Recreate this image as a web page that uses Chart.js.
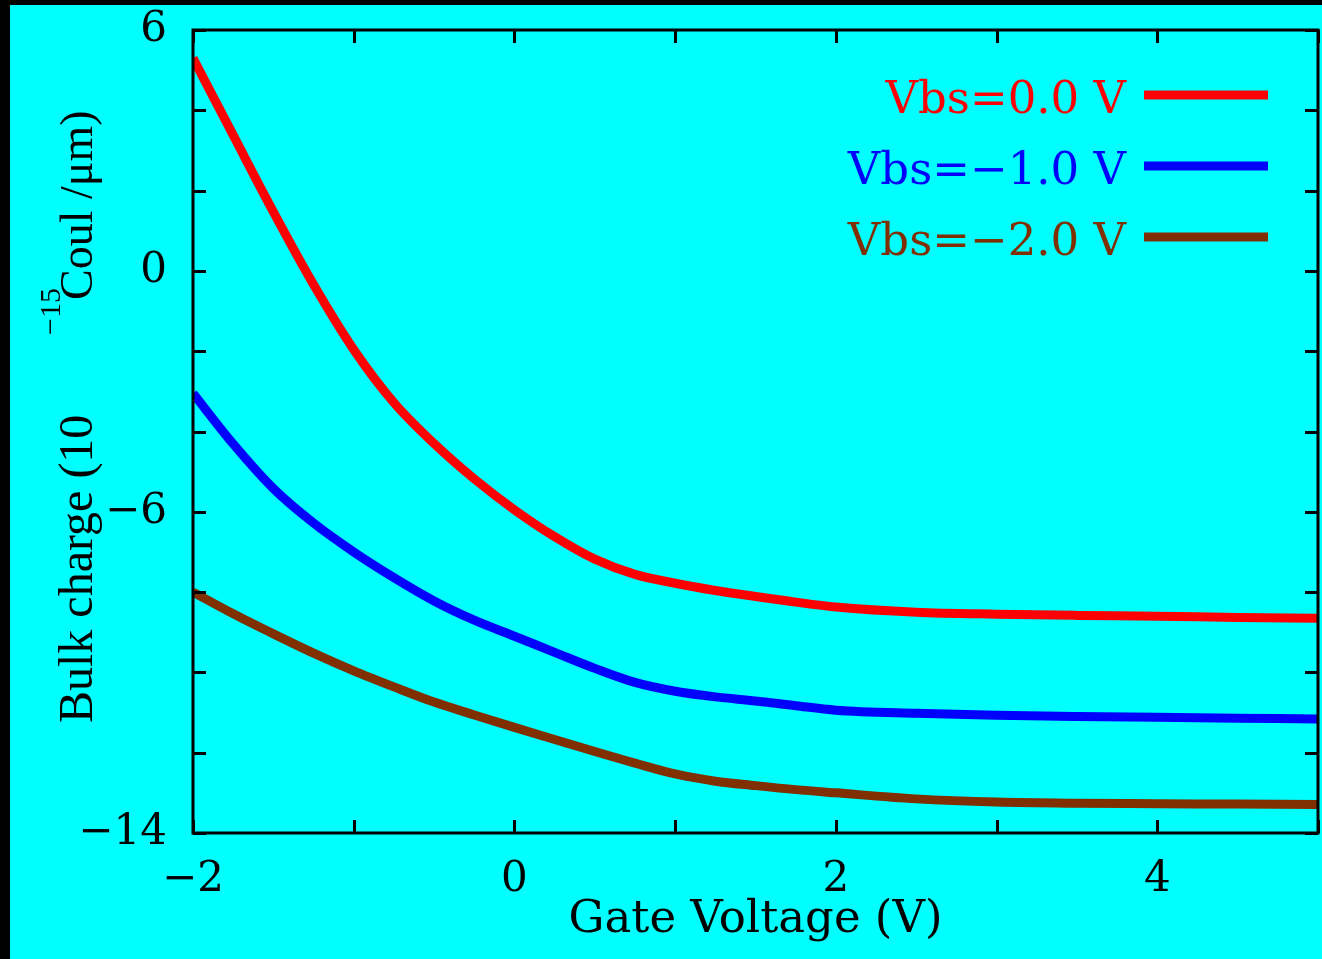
<!DOCTYPE html>
<html lang="en">
<head>
    <meta charset="UTF-8">
    <title>Bulk charge vs Gate Voltage</title>
    <script src="https://cdn.jsdelivr.net/npm/chart.js"></script>
    <style>
        html, body { margin: 0; padding: 0; background: #000; }
        canvas { display: block; }
    </style>
</head>
<body>
    <canvas id="grafico" width="1322" height="959"></canvas>

    <script>
        // Data
        const gateVoltage = [-2, -1.75, -1.5, -1.25, -1, -0.75, -0.5, -0.25, 0, 0.25, 0.5, 0.75, 1, 1.25, 1.5, 1.75, 2, 2.5, 3, 3.5, 4, 4.5, 5];
        const vbs0 = [5.30, 3.38, 1.47, -0.34, -1.96, -3.28, -4.30, -5.18, -5.95, -6.62, -7.18, -7.56, -7.78, -7.96, -8.11, -8.25, -8.37, -8.50, -8.55, -8.58, -8.60, -8.63, -8.65];
        const vbs1 = [-3.05, -4.31, -5.42, -6.28, -7.00, -7.64, -8.22, -8.70, -9.10, -9.50, -9.90, -10.25, -10.47, -10.61, -10.71, -10.83, -10.94, -11.02, -11.07, -11.10, -11.12, -11.14, -11.16];
        const vbs2 = [-8.00, -8.54, -9.04, -9.52, -9.96, -10.36, -10.74, -11.06, -11.37, -11.67, -11.97, -12.26, -12.53, -12.71, -12.82, -12.92, -13.00, -13.15, -13.23, -13.26, -13.27, -13.28, -13.29];
        const seriesLabels = ['Vbs=0.0 V', 'Vbs=\u22121.0 V', 'Vbs=\u22122.0 V'];
        const xTickLabels = [-2, 0, 2, 4];
        const yTickLabels = [6, 0, -6, -14];

        const fuente = '"DejaVu Serif", serif';
        const minus = v => String(v).replace('-', '\u2212');
        const puntos = serie => gateVoltage.map((x, i) => ({ x: x, y: serie[i] }));

        // Fondo, marco, marcas, leyenda y título del eje y
        const marco = {
            id: 'marco',
            beforeDraw(chart) {
                const ctx = chart.ctx;
                ctx.save();
                ctx.fillStyle = '#000';
                ctx.fillRect(0, 0, chart.width, chart.height);
                ctx.fillStyle = '#00ffff';
                ctx.fillRect(10, 5, chart.width - 10, chart.height - 5);
                ctx.restore();
            },
            afterDraw(chart) {
                const ctx = chart.ctx;
                const a = chart.chartArea;
                const sx = chart.scales.x, sy = chart.scales.y;
                const t = 13;
                ctx.save();
                ctx.strokeStyle = '#000';
                ctx.lineWidth = 3;
                ctx.strokeRect(a.left, a.top, a.right - a.left, a.bottom - a.top);
                ctx.beginPath();
                sx.ticks.forEach(tk => {
                    const px = Math.round(sx.getPixelForValue(tk.value)) + 0.5;
                    ctx.moveTo(px, a.bottom); ctx.lineTo(px, a.bottom - t);
                    ctx.moveTo(px, a.top); ctx.lineTo(px, a.top + t);
                });
                sy.ticks.forEach(tk => {
                    const py = Math.round(sy.getPixelForValue(tk.value)) + 0.5;
                    ctx.moveTo(a.left, py); ctx.lineTo(a.left + t, py);
                    ctx.moveTo(a.right, py); ctx.lineTo(a.right - t, py);
                });
                ctx.stroke();

                // Leyenda: texto a la izquierda, línea a la derecha
                ctx.font = '45px ' + fuente;
                ctx.textAlign = 'right';
                ctx.textBaseline = 'alphabetic';
                chart.data.datasets.forEach((ds, i) => {
                    const y = 95 + i * 71;
                    ctx.fillStyle = ds.borderColor;
                    ctx.fillText(ds.label, 1126, y + 18);
                    ctx.fillRect(1144, y - 4.5, 124, 9);
                });

                // Título del eje y con superíndice
                ctx.fillStyle = '#000';
                ctx.textAlign = 'left';
                ctx.translate(92, 723);
                ctx.rotate(-Math.PI / 2);
                ctx.font = '48px "Liberation Serif", serif';
                ctx.fillText('Bulk charge (10', 0, 0);
                ctx.font = '30px "Liberation Serif", serif';
                ctx.fillText('\u221215', 388, -32);
                ctx.font = '46px "Liberation Serif", serif';
                ctx.fillText('Coul /\u03bcm)', 423, 0);
                ctx.restore();
            }
        };

        const ctx = document.getElementById('grafico').getContext('2d');
        const grafico = new Chart(ctx, {
            type: 'line',
            data: {
                datasets: [
                    { label: seriesLabels[0], data: puntos(vbs0), borderColor: '#ff0000' },
                    { label: seriesLabels[1], data: puntos(vbs1), borderColor: '#0000ff' },
                    { label: seriesLabels[2], data: puntos(vbs2), borderColor: '#802f00' }
                ]
            },
            options: {
                responsive: false,
                animation: false,
                devicePixelRatio: 1,
                layout: { padding: { left: 0, top: 30, right: 4, bottom: 0 } },
                elements: {
                    line: { borderWidth: 9, cubicInterpolationMode: 'monotone', fill: false },
                    point: { radius: 0 }
                },
                plugins: {
                    legend: { display: false },
                    tooltip: { enabled: false }
                },
                scales: {
                    x: {
                        type: 'linear',
                        min: -2,
                        max: 5,
                        grid: { display: false, drawTicks: false },
                        border: { display: false },
                        ticks: {
                            stepSize: 1,
                            padding: 22,
                            maxRotation: 0,
                            color: '#000',
                            font: { family: fuente, size: 42 },
                            callback: v => xTickLabels.includes(v) ? minus(v) : ''
                        },
                        title: {
                            display: true,
                            text: 'Gate Voltage (V)',
                            color: '#000',
                            font: { family: fuente, size: 45 },
                            padding: { top: 0, bottom: 12 }
                        },
                        afterFit: s => { s.height = 126; s.paddingLeft = 0; s.paddingRight = 0; }
                    },
                    y: {
                        min: -14,
                        max: 6,
                        grid: { display: false, drawTicks: false },
                        border: { display: false },
                        ticks: {
                            stepSize: 2,
                            padding: 26,
                            color: '#000',
                            font: { family: fuente, size: 42 },
                            callback: v => yTickLabels.includes(v) ? minus(v) : ''
                        },
                        afterFit: s => { s.width = 193; s.paddingTop = 0; s.paddingBottom = 0; }
                    }
                }
            },
            plugins: [marco]
        });
    </script>
</body>
</html>
